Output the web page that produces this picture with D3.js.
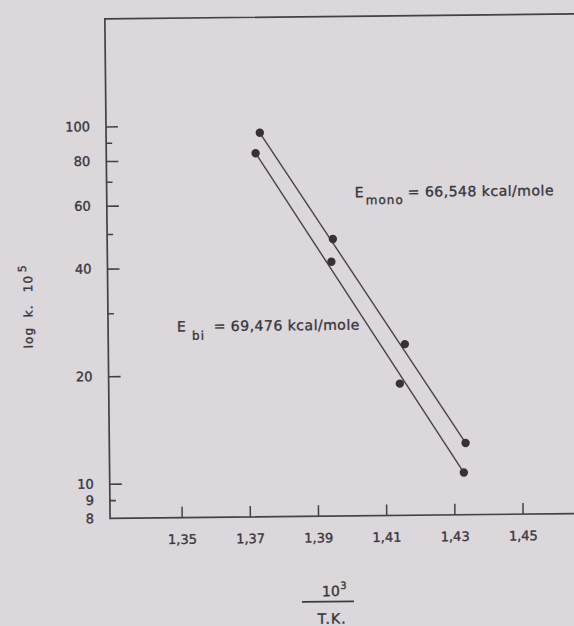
<!DOCTYPE html>
<html>
<head>
<meta charset="utf-8">
<script src="https://cdn.jsdelivr.net/npm/d3@7"></script>
<style>
  html, body { margin: 0; padding: 0; background: #dcd7db; }
  svg { display: block; }
  text { font-family: "DejaVu Sans", sans-serif; fill: #38353d; stroke: #38353d; stroke-width: 0.35px; }
</style>
</head>
<body>
<svg id="chart" width="574" height="626"></svg>
<script>
// ---- data ----
const monoX = [1.3741, 1.3952, 1.4160, 1.4335];
const monoY = [95.0, 47.7, 24.1, 12.7];
const biX   = [1.3728, 1.3947, 1.4144, 1.4329];
const biY   = [83.3, 41.2, 18.7, 10.5];
const xTicks = [1.35, 1.37, 1.39, 1.41, 1.43, 1.45];
const yTicks = [100, 90, 80, 70, 60, 50, 40, 30, 20, 10, 9, 8];
const yTickLabels = [100, 80, 60, 40, 20, 10, 9, 8];
const yMinorTicks = [90, 70, 50, 30, 9];
const monoLabel = ["E", "mono", "= 66,548 kcal/mole"];
const biLabel = ["E", "bi", "= 69,476 kcal/mole"];

const svg = d3.select("#chart");
const g = svg.append("g").attr("transform", "rotate(-0.6, 340, 270)");

const x = d3.scaleLinear().domain([1.329, 1.47]).range([107.5, 588.2]);
const y = d3.scaleLog().domain([8, 200]).range([516, 16.4]);

const loc = d3.formatLocale({decimal: ",", thousands: ".", grouping: [3], currency: ["", ""]});
const fmt = loc.format(".2f");

// frame
g.append("rect")
  .attr("x", x(1.329)).attr("y", y(200))
  .attr("width", 640 - x(1.329)).attr("height", y(8) - y(200))
  .attr("fill", "none").attr("stroke", "#444046").attr("stroke-width", 1.7);

// y axis
const yAxis = d3.axisLeft(y)
  .tickValues(yTicks)
  .tickSizeInner(-12).tickSizeOuter(0).tickPadding(16)
  .tickFormat(d => yTickLabels.includes(d) ? String(d) : "");
const gy = g.append("g").attr("transform", `translate(${x(1.329)},0)`).call(yAxis);
gy.select(".domain").remove();
gy.selectAll(".tick line")
  .attr("stroke", "#444046").attr("stroke-width", 1.6)
  .attr("x2", d => yMinorTicks.includes(d) ? 6 : 12)
  .style("display", d => d === 8 ? "none" : null);
gy.selectAll(".tick text").style("font-size", "13px").attr("fill", "#38353d")
  .style("font-family", "DejaVu Sans, sans-serif");

// x axis
const xAxis = d3.axisBottom(x)
  .tickValues(xTicks)
  .tickSizeInner(-11).tickSizeOuter(0).tickPadding(17)
  .tickFormat(fmt);
const gx = g.append("g").attr("transform", `translate(0,${y(8)})`).call(xAxis);
gx.select(".domain").remove();
gx.selectAll(".tick line").attr("stroke", "#444046").attr("stroke-width", 1.5);
gx.selectAll(".tick text").style("font-size", "13px").attr("fill", "#38353d")
  .style("font-family", "DejaVu Sans, sans-serif");

// series
const series = [
  {xs: monoX, ys: monoY},
  {xs: biX, ys: biY}
];
series.forEach(s => {
  const n = s.xs.length;
  g.append("line")
    .attr("x1", x(s.xs[0])).attr("y1", y(s.ys[0]))
    .attr("x2", x(s.xs[n - 1])).attr("y2", y(s.ys[n - 1]))
    .attr("stroke", "#4a4145").attr("stroke-width", 1.4);
  g.selectAll(null).data(d3.range(n)).enter().append("circle")
    .attr("cx", i => x(s.xs[i])).attr("cy", i => y(s.ys[i]))
    .attr("r", 4.2).attr("fill", "#3a2f34");
});

// annotations
function energyLabel(parts, ex, ey, subDx, subDy, restX) {
  const t = g.append("text").attr("x", ex).attr("y", ey).style("font-size", "14px");
  t.append("tspan").text(parts[0]);
  t.append("tspan").attr("x", ex + subDx).attr("y", ey + subDy)
    .style("font-size", "12px").style("letter-spacing", "1px").text(parts[1]);
  t.append("tspan").attr("x", restX).attr("y", ey)
    .style("letter-spacing", "0.5px").text(parts[2]);
}
energyLabel(monoLabel, 355.5, 197.5, 11, 7, 408.5);
energyLabel(biLabel, 176.3, 329.8, 15, 8.5, 213);

// y axis title
const yt = g.append("text")
  .attr("transform", "translate(32,345) rotate(-90)")
  .style("font-size", "12px").style("letter-spacing", "1px");
yt.append("tspan").attr("x", 0).attr("y", 0).text("log");
yt.append("tspan").attr("x", 31).attr("y", 0).text("k.");
yt.append("tspan").attr("x", 56).attr("y", 0).text("10");
yt.append("tspan").attr("x", 76).attr("y", -6).style("font-size", "11px").text("5");

// x axis title (fraction)
g.append("text").attr("x", 336.5).attr("y", 596)
  .attr("text-anchor", "end").style("font-size", "14px").text("10");
g.append("text").attr("x", 337).attr("y", 589)
  .style("font-size", "10px").text("3");
g.append("line").attr("x1", 298.5).attr("x2", 350.5).attr("y1", 601.5).attr("y2", 601.5)
  .attr("stroke", "#3d3a44").attr("stroke-width", 1.8);
g.append("text").attr("x", 328.5).attr("y", 623.5).attr("text-anchor", "middle")
  .style("font-size", "14px").style("letter-spacing", "1px").text("T.K.");
</script>
</body>
</html>
